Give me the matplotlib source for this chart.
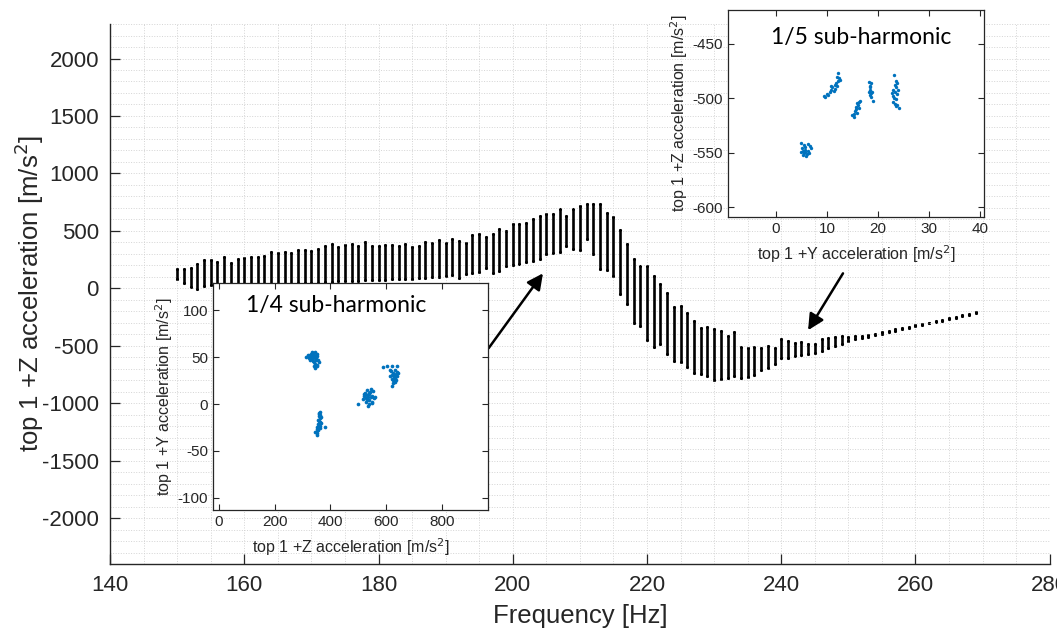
import matplotlib

matplotlib.use("Agg")
import matplotlib.pyplot as plt
from matplotlib.ticker import MultipleLocator

plt.rcParams["font.family"] = ["Liberation Sans", "DejaVu Sans"]
plt.rcParams["axes.unicode_minus"] = False

# main sweep: per-frequency envelope of the +Z acceleration scatter
FREQ = list(range(150, 270))
Z_MAX = [
    170, 165, 180, 214, 243, 243, 229, 272, 223, 252,
    261, 272, 272, 281, 316, 304, 316, 304, 333, 333,
    324, 339, 368, 388, 359, 374, 388, 365, 403, 365,
    365, 374, 374, 365, 388, 359, 365, 400, 391, 420,
    397, 432, 411, 397, 461, 470, 449, 475, 513, 498,
    557, 562, 565, 600, 629, 649, 649, 687, 629, 687,
    716, 731, 736, 731, 658, 620, 505, 383, 255, 190,
    194, 107, 40, -38, -163, -154, -212, -284, -343, -337,
    -357, -371, -415, -378, -511, -522, -511, -517, -502, -517,
    -444, -458, -473, -467, -487, -482, -444, -435, -424, -415,
    -420, -415, -416, -405, -394, -382, -370, -358, -346, -334,
    -322, -310, -298, -286, -273, -260, -248, -235, -222, -209,
]
Z_MIN = [
    78, 49, 11, -9, 20, 25, 10, 15, 20, 20,
    25, 25, 30, 30, 35, 35, 40, 40, 45, 45,
    50, 50, 55, 55, 60, 60, 65, 65, 70, 70,
    75, 75, 80, 80, 85, 85, 90, 90, 95, 100,
    107, 116, 87, 122, 136, 142, 174, 136, 150, 194,
    203, 214, 229, 238, 258, 301, 310, 316, 368, 339,
    330, 426, 296, 165, 157, 107, -47, -139, -299, -328,
    -452, -511, -487, -569, -632, -638, -685, -734, -748, -763,
    -800, -792, -783, -763, -783, -772, -754, -713, -696, -656,
    -604, -604, -589, -580, -569, -560, -545, -522, -502, -482,
    -455, -445, -432, -420, -408, -394, -382, -368, -356, -344,
    -330, -318, -306, -294, -281, -268, -256, -243, -230, -217,
]

# 1/4 sub-harmonic Poincare points (Z, Y)
SUB4_Z = [
    312, 318, 322, 325, 328, 330, 333, 335, 338, 340, 342, 345, 347, 350, 352,
    336, 341, 348, 355, 358, 345, 350, 340, 346, 352, 326, 332, 344, 320, 337,
    362, 360, 364, 358, 362, 366, 356, 360, 364, 355, 359, 363, 352, 357, 361,
    350, 354, 348, 352, 346, 350, 380, 366, 358,
    500, 515, 520, 525, 528, 530, 532, 535, 538, 540, 542, 545, 548, 550, 552,
    555, 560, 535, 540, 528, 545, 522, 538, 530, 548,
    589, 604, 621, 639, 612, 618, 625, 630, 635, 640, 628, 622, 633, 638, 615,
    626, 631, 620, 636, 642, 624, 622, 629,
]
SUB4_Y = [
    50, 51, 49, 52, 50, 53, 48, 51, 54, 50, 52, 55, 49, 53, 51,
    46, 45, 47, 47, 45, 43, 42, 40, 38, 41, 47, 55, 51, 52, 49,
    -8, -10, -12, -13, -15, -14, -17, -18, -19, -21, -22, -23, -24, -25, -26,
    -27, -28, -30, -31, -30, -33, -25, -20, -11,
    0, 5, 9, 12, 6, 10, 15, 8, 4, 11, 13, 7, 9, 2, 14,
    6, 8, -2, 0, 2, 16, 11, 12, 4, 1,
    39, 40, 40, 40, 36, 35, 33, 36, 32, 30, 29, 31, 28, 34, 30,
    26, 24, 27, 26, 33, 22, 19, 31,
]

# 1/5 sub-harmonic Poincare points (Y, Z)
SUB5_Y = [
    5.0, 5.5, 6.2, 6.6, 5.2, 5.8, 6.3, 5.0, 5.6, 6.1, 5.4, 6.0, 5.8, 6.8, 5.3, 6.4, 5.7,
    9.4, 9.7, 10.0, 10.3, 10.6, 10.9, 11.1, 11.3, 11.5, 11.7, 11.9, 12.1, 12.3, 11.9,
    12.1, 11.5, 10.8, 12.5,
    15.0, 15.3, 15.5, 15.7, 15.9, 15.8, 16.1, 16.0, 16.3, 16.5, 15.4, 16.2,
    18.3, 18.6, 18.4, 18.5, 18.3, 18.7, 18.4, 18.6, 19.0, 18.5, 18.8,
    23.1, 23.5, 23.8, 23.3, 23.6, 23.0, 23.4, 23.7, 22.9, 23.2, 23.6, 23.0, 23.4,
    23.8, 24.2, 23.5, 22.8, 24.0,
]
SUB5_Z = [
    -541, -543, -542, -544, -546, -547, -548, -549, -550, -551, -552, -553, -549,
    -546, -548, -550, -545,
    -498, -499, -496, -497, -494, -492, -490, -493, -488, -486, -489, -484, -481,
    -480, -477, -491, -489, -483,
    -515, -517, -512, -510, -513, -508, -506, -504, -503, -502, -514, -509,
    -485, -486, -489, -492, -494, -495, -497, -499, -502, -490, -494,
    -479, -484, -486, -488, -490, -492, -494, -496, -498, -500, -501, -503, -505,
    -506, -509, -507, -495, -492,
]

# arrows: (freq, accel) tail -> tip
ARROW_TAILS = [(196.4, -522), (249.2, 130)]
ARROW_TIPS = [(204.5, 130), (244.0, -365)]

TXT = "#262626"
BLUE = "#0072BD"


def style_inset(ax):
    ax.tick_params(direction="in", top=True, right=True, labelsize=11,
                   colors=TXT, length=4, width=0.8)
    for s in ax.spines.values():
        s.set_color(TXT)
        s.set_linewidth(0.9)
    ax.set_facecolor("white")


fig = plt.figure(figsize=(10.57, 6.33), dpi=100)
ax = fig.add_axes([0.1041, 0.109, 0.889, 0.853])
bands = ax.vlines(FREQ, Z_MIN, Z_MAX, color="black", lw=1.9)
bands.set_capstyle("round")
ax.scatter(FREQ + FREQ, Z_MIN + Z_MAX, s=5, color="black", linewidths=0)
ax.set_xlim(140, 280)
ax.set_ylim(-2400, 2300)
ax.set_xticks(range(140, 281, 20))
ax.set_yticks(range(-2000, 2001, 500))
ax.xaxis.set_minor_locator(MultipleLocator(5))
ax.yaxis.set_minor_locator(MultipleLocator(100))
ax.grid(which="both", linestyle=":", color="#d4d4d4", lw=0.7)
ax.tick_params(which="major", direction="in", labelsize=16, colors=TXT,
               length=7, width=0.9, pad=8)
ax.tick_params(which="minor", length=0)
ax.spines["top"].set_visible(False)
ax.spines["right"].set_visible(False)
for s in ("left", "bottom"):
    ax.spines[s].set_color(TXT)
    ax.spines[s].set_linewidth(1.0)
ax.set_xlabel("Frequency [Hz]", fontsize=18.5, color=TXT, labelpad=6)
ax.set_ylabel("top 1 +Z acceleration [m/s$^2$]", fontsize=18.5, color=TXT,
              labelpad=-3)

for tail, tip in zip(ARROW_TAILS, ARROW_TIPS):
    ax.annotate("", xy=tip, xytext=tail,
                arrowprops=dict(arrowstyle="-|>", color="black", lw=1.8,
                                mutation_scale=24, shrinkA=0, shrinkB=0))

# inset: 1/4 sub-harmonic
ax1 = fig.add_axes([0.2015, 0.1943, 0.260, 0.3586])
ax1.scatter(SUB4_Z, SUB4_Y, s=7, color=BLUE, linewidths=0)
ax1.set_xlim(-22, 965)
ax1.set_ylim(-113, 129)
ax1.set_xticks([0, 200, 400, 600, 800])
ax1.set_yticks([-100, -50, 0, 50, 100])
style_inset(ax1)
ax1.set_xlabel("top 1 +Z acceleration [m/s$^2$]", fontsize=11.5, color=TXT,
               labelpad=5)
ax1.set_ylabel("top 1 +Y acceleration [m/s$^2$]", fontsize=11.5, color=TXT,
               labelpad=2)
ax1.text(0.45, 0.9, "1/4 sub-harmonic", transform=ax1.transAxes,
         ha="center", va="center", fontsize=16.5, family="Lato")

# inset: 1/5 sub-harmonic
ax2 = fig.add_axes([0.6887, 0.657, 0.2422, 0.327])
ax2.scatter(SUB5_Y, SUB5_Z, s=6, color=BLUE, linewidths=0)
ax2.set_xlim(-9.4, 40.8)
ax2.set_ylim(-609, -419)
ax2.set_xticks([0, 10, 20, 30, 40])
ax2.set_yticks([-600, -550, -500, -450])
style_inset(ax2)
ax2.set_xlabel("top 1 +Y acceleration [m/s$^2$]", fontsize=11.5, color=TXT,
               labelpad=5)
ax2.set_ylabel("top 1 +Z acceleration [m/s$^2$]", fontsize=11.5, color=TXT,
               labelpad=2)
ax2.text(0.52, 0.87, "1/5 sub-harmonic", transform=ax2.transAxes,
         ha="center", va="center", fontsize=16.5, family="Lato")

fig.savefig("out.png", dpi=100)
plt.close(fig)
